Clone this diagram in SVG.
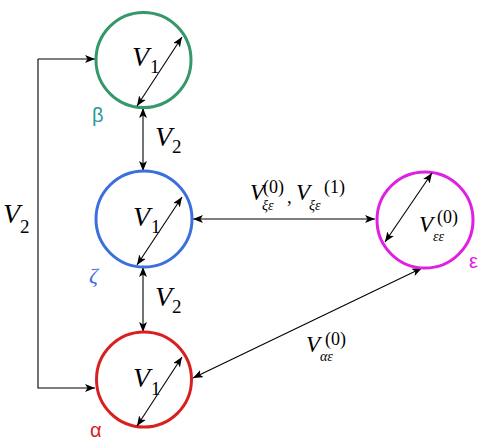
<svg xmlns="http://www.w3.org/2000/svg" width="490" height="446" viewBox="0 0 490 446">
<defs>
<marker id="ah" viewBox="0 0 10 8" refX="10" refY="4" markerWidth="10" markerHeight="8" markerUnits="userSpaceOnUse" orient="auto-start-reverse">
<path d="M0,0 L10,4 L0,8 L2.5,4 z" fill="#000"/>
</marker>
</defs>
<style>
.c{fill:#fff;stroke-width:3}
.l{stroke:#000;stroke-width:1.1;fill:none}
.d{marker-start:url(#ah);marker-end:url(#ah)}
.e{marker-end:url(#ah)}
text{font-family:'Liberation Serif','Times New Roman','DejaVu Serif',serif}
.v{font-style:italic;font-size:28px;fill:#000}
.s{font-size:19px;fill:#000}
.vs{font-style:italic;font-size:23px;fill:#000}
.sup{font-size:18px;fill:#000}
.sub{font-style:italic;font-size:14px;fill:#000}
.g{font-family:'Liberation Sans',Arial,sans-serif;font-size:20px}
.gb{fill:#2a9a9a}
.gz{fill:#3c6fdc;font-style:italic;font-size:22px}
.ga{fill:#d92020}
.ge{fill:#e020e0}
</style>
<g id="connectors">
<path class="l e" d="M38,59 H95"/>
<path class="l e" d="M38,59 V388 H95"/>
<path class="l d" d="M143,108 V171"/>
<path class="l d" d="M143,267 V332"/>
<path class="l d" d="M193,219 H375"/>
<path class="l d" d="M193,378 L422,268"/>
<text class="v" x="3" y="223">V</text><text class="s" x="20" y="233">2</text>
<text class="v" x="155" y="146">V</text><text class="s" x="172" y="153">2</text>
<text class="v" x="155" y="306">V</text><text class="s" x="172" y="313">2</text>
<g>
<text class="vs" x="250" y="200">V</text><text class="sup" x="263" y="193">(0)</text><text class="sub" x="262" y="210">ξε</text>
<text class="s" x="287" y="203">,</text>
<text class="vs" x="296" y="200">V</text><text class="sup" x="324" y="193">(1)</text><text class="sub" x="309" y="210">ξε</text>
</g>
<g>
<text class="vs" x="306" y="352">V</text><text class="sup" x="325" y="345">(0)</text><text class="sub" x="320" y="361">αε</text>
</g>
</g>
<g id="beta">
<circle class="c" cx="143.5" cy="60" r="47.5" stroke="#35976a"/>
<path class="l d" d="M137,106 L182,37"/>
<text class="v" x="132" y="66">V</text><text class="s" x="150" y="73">1</text>
<text class="g gb" x="92" y="122">β</text>
</g>
<g id="zeta">
<circle class="c" cx="144" cy="219" r="48" stroke="#3c6fdc"/>
<path class="l d" d="M137,265 L182,197"/>
<text class="v" x="133" y="226">V</text><text class="s" x="151" y="233">1</text>
<text class="gz" x="89" y="283">ζ</text>
</g>
<g id="alpha">
<circle class="c" cx="144" cy="379.5" r="47.5" stroke="#d92020"/>
<path class="l d" d="M137,426 L182,357"/>
<text class="v" x="133" y="387">V</text><text class="s" x="151" y="395">1</text>
<text class="g ga" x="90" y="437">α</text>
</g>
<g id="epsilon">
<circle class="c" cx="425" cy="220" r="48" stroke="#e020e0"/>
<path class="l d" d="M385,242 L432,173"/>
<text class="vs" x="419" y="232">V</text><text class="sup" x="437" y="223">(0)</text><text class="sub" x="433" y="241">εε</text>
<text class="g ge" x="469" y="268">ε</text>
</g>
</svg>
